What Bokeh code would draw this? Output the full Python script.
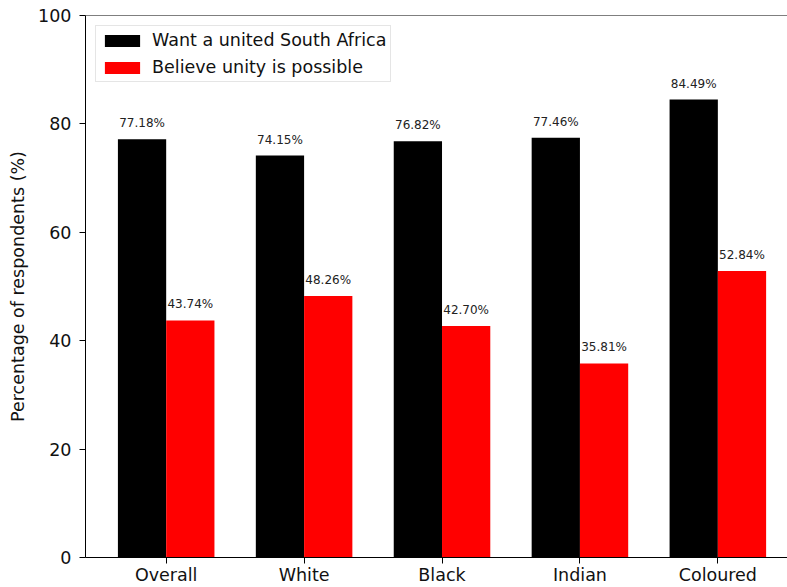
from bokeh.plotting import figure
from bokeh.models import ColumnDataSource, FixedTicker, Range1d, Legend, LegendItem, LabelSet, Span
from bokeh.core.properties import value
from bokeh.embed import file_html
from bokeh.resources import INLINE

categories = ["Overall", "White", "Black", "Indian", "Coloured"]
want_united = [77.18, 74.15, 76.82, 77.46, 84.49]
believe_possible = [43.74, 48.26, 42.70, 35.81, 52.84]
y_ticks = [0, 20, 40, 60, 80, 100]

bar_w = 0.35
idx = list(range(len(categories)))

src1 = ColumnDataSource(dict(
    x=[i - bar_w / 2 for i in idx], top=want_united,
    lbl=[f"{v:.2f}%" for v in want_united]))
src2 = ColumnDataSource(dict(
    x=[i + bar_w / 2 for i in idx], top=believe_possible,
    lbl=[f"{v:.2f}%" for v in believe_possible]))

FONT = "DejaVu Sans"
FS = "17.5px"

p = figure(width=787, height=587, output_backend="svg", toolbar_location=None,
           x_range=Range1d(-0.585, 4.505), y_range=Range1d(0, 100),
           min_border_left=85, min_border_right=0, min_border_top=15,
           min_border_bottom=30)
p.background_fill_color = "white"
p.border_fill_color = "white"
p.outline_line_color = None
p.xgrid.visible = False
p.ygrid.visible = False

# top spine only (matplotlib-style; right spine lies outside the crop)
p.add_layout(Span(location=p.y_range.end, dimension="width",
                  line_color="black", line_width=1))

r1 = p.vbar(x="x", top="top", width=bar_w, bottom=0, source=src1,
            fill_color="#000000", line_color=None)
r2 = p.vbar(x="x", top="top", width=bar_w, bottom=0, source=src2,
            fill_color="#ff0000", line_color=None)

for s in (src1, src2):
    p.add_layout(LabelSet(x="x", y="top", text="lbl", source=s,
                          text_align="center", text_baseline="bottom",
                          y_offset=9, text_font=value(FONT),
                          text_font_size="12px", text_color="#222222"))

p.xaxis.ticker = FixedTicker(ticks=idx)
p.xaxis.major_label_overrides = {i: c for i, c in zip(idx, categories)}
p.yaxis.ticker = FixedTicker(ticks=y_ticks)
p.yaxis.axis_label = "Percentage of respondents (%)"

for ax in (p.xaxis[0], p.yaxis[0]):
    ax.major_tick_out = 6
    ax.major_tick_in = 0
    ax.minor_tick_out = 0
    ax.minor_tick_in = 0
    ax.axis_line_color = "black"
    ax.major_tick_line_color = "black"
    ax.major_label_text_font = FONT
    ax.major_label_text_font_size = FS
    ax.major_label_text_color = "#111111"
    ax.axis_label_text_font = FONT
    ax.axis_label_text_font_size = FS
    ax.axis_label_text_font_style = "normal"
    ax.axis_label_text_color = "#111111"
p.xaxis.major_label_standoff = 1
p.yaxis.major_label_standoff = 8
p.yaxis.axis_label_standoff = 7

legend = Legend(items=[LegendItem(label="Want a united South Africa", renderers=[r1]),
                       LegendItem(label="Believe unity is possible", renderers=[r2])],
                location="top_left", margin=10, padding=4, spacing=7,
                glyph_width=44, glyph_height=15, label_height=20,
                label_standoff=8, label_text_font=FONT,
                label_text_font_size=FS, label_text_color="#111111",
                border_line_color="#cccccc", border_line_width=1,
                background_fill_color="white", background_fill_alpha=0.8)
p.add_layout(legend)

open("out.html", "w").write(file_html(p, INLINE))
